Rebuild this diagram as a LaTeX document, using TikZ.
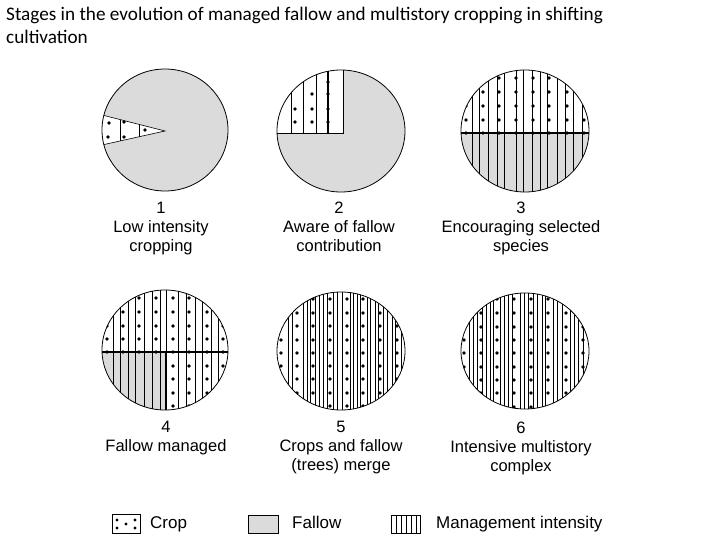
\documentclass[tikz,border=0pt]{standalone}
\usepackage{fontspec}
\setmainfont{Liberation Sans}
\newfontfamily\titlefont{Carlito}
\usetikzlibrary{calc}

\begin{document}
\begin{tikzpicture}[x=1pt,y=-1pt,>=stealth]
 \tikzstyle{outline} = [draw=black,line width=0.8pt]
 \tikzstyle{fallow} = [fill=black!14]
 \tikzstyle{mgmt} = [draw=black,line width=0.6pt]
 \tikzstyle{split} = [draw=black,line width=1.1pt]
 \tikzstyle{stage} = [align=center,anchor=north,inner sep=0pt,font=\fontsize{16.5}{18.8}\selectfont]
 \tikzstyle{legendtext} = [anchor=base west,inner sep=0pt,font=\fontsize{17}{19}\selectfont]

  \useasboundingbox (0,0) rectangle (720,540);

  \coordinate (c1) at (165,130);
  \coordinate (c2) at (341,131);
  \coordinate (c3) at (525,131);
  \coordinate (c4) at (165,350);
  \coordinate (c5) at (341,351);
  \coordinate (c6) at (525,351);

  % Title
  \node[anchor=north west,inner sep=0pt,align=left,font=\titlefont\fontsize{19.2}{22.5}\selectfont]
    (title) at (6,7) {Stages in the evolution of managed fallow and multistory cropping in shifting\\cultivation};

  % Stage 1: small cropped wedge
  \begin{scope}[shift={(c1)}]
    \fill[fallow] (0,0) ellipse [x radius=63, y radius=61];
    \coordinate (w1tip) at (0,1);
    \coordinate (w1up) at (-68,-16.3);
    \coordinate (w1lo) at (-68,16.1);
    \begin{scope}
      \clip (0,0) ellipse [x radius=63, y radius=61];
      \filldraw[fill=white,draw=black,line width=0.6pt] (w1up) -- (w1tip) -- (w1lo) -- cycle;
    \end{scope}
    \draw[mgmt] ($(w1tip)!0.662!(w1up)$) -- ($(w1tip)!0.662!(w1lo)$);
    \draw[mgmt] ($(w1tip)!0.382!(w1up)$) -- ($(w1tip)!0.382!(w1lo)$);
    \foreach \p in {(-56,-7),(-57,7),(-41,-8),(-41,7),(-20,0)}
      \fill \p circle (1.9pt);
    \draw[outline] (0,0) ellipse [x radius=63, y radius=61];
  \end{scope}

  % Stage 2: quarter under crop
  \begin{scope}[shift={(c2)}]
    \fill[fallow] (0,0) ellipse [x radius=64, y radius=61];
    \begin{scope}
      \clip (0,0) ellipse [x radius=64, y radius=61];
      \fill[white] (2,2) rectangle (-70,-70);
      \foreach \dx in {-50,-38,-25}
        \draw[mgmt] (\dx,-70) -- (\dx,2);
      \draw[split] (-13,-70) -- (-13,2);
      \draw[mgmt] (2,-70) -- (2,2) -- (-70,2);
    \end{scope}
    \foreach \p in {(-46,-22),(-46,-9),(-29,-37),(-29,-22),(-29,-9),(-13,-49),(-13,-37),(-13,-22),(-13,-9)}
      \fill \p circle (1.9pt);
    \draw[outline] (0,0) ellipse [x radius=64, y radius=61];
  \end{scope}

  % Stage 3: half managed
  \begin{scope}[shift={(c3)}]
    \begin{scope}
      \clip (0,0) ellipse [x radius=64, y radius=61];
      \fill[fallow] (-70,2) rectangle (70,70);
      \foreach \dx in {-53,-46,-37,-28,-21,-9,-2,7,15,22,32,40,48,57}
        \draw[mgmt] (\dx,-70) -- (\dx,70);
      \draw[split] (-70,2) -- (70,2);
      \foreach \dx in {-59,-42,-26,-9,8,24,42,59}
        \foreach \dy in {-53,-39,-25,-11,2}
          \fill (\dx,\dy) circle (1.9pt);
    \end{scope}
    \draw[outline] (0,0) ellipse [x radius=64, y radius=61];
  \end{scope}

  % Stage 4: fallow managed
  \begin{scope}[shift={(c4)}]
    \begin{scope}
      \clip (0,0) ellipse [x radius=63, y radius=60];
      \fill[fallow] (-70,2) rectangle (1,70);
      \foreach \dx in {-52,-45,-37,-30,-21,-13,-5,13,21,30,37,46,53}
        \draw[mgmt] (\dx,-70) -- (\dx,70);
      \draw[split] (1,2) -- (1,70);
      \draw[mgmt] (1,-70) -- (1,2);
      \draw[split] (-70,2) -- (70,2);
      \foreach \dx in {-58,-42,-26,-9,8,24,42,58}
        \foreach \dy in {-52,-38,-24,-11,2}
          \fill (\dx,\dy) circle (1.9pt);
      \foreach \dx in {8,24,42,58}
        \foreach \dy in {16,29,43,56}
          \fill (\dx,\dy) circle (1.9pt);
    \end{scope}
    \draw[outline] (0,0) ellipse [x radius=63, y radius=60];
  \end{scope}

  % Stage 5: crops and trees merge
  \begin{scope}[shift={(c5)}]
    \begin{scope}
      \clip (0,0) ellipse [x radius=64, y radius=59];
      \foreach \dx in {-53,-49,-38,-34,-31,-26,-22,-18,-14,-8,-4,1,9,12,16,19,26,29,34,37,42,46,51,54,60}
        \draw[mgmt] (\dx,-70) -- (\dx,70);
      \foreach \dx in {-60,-44,-28,-11,6,22,39,56}
        \foreach \dy in {-52,-38,-25,-11,2,15,28,42,55}
          \fill (\dx,\dy) circle (1.9pt);
    \end{scope}
    \draw[outline] (0,0) ellipse [x radius=64, y radius=59];
  \end{scope}

  % Stage 6: intensive multistory
  \begin{scope}[shift={(c6)}]
    \begin{scope}
      \clip (0,0) ellipse [x radius=64, y radius=58];
      \foreach \dx in {-56,-52,-48,-43,-39,-35,-32,-25,-21,-17,-13,-5,-1,3,8,12,17,20,28,32,37,45,49,53,58}
        \draw[mgmt] (\dx,-70) -- (\dx,70);
      \foreach \dx in {-61,-44,-28,-11,6,23,41,58}
        \foreach \dy in {-52,-38,-24,-11,2,16,29,42,56}
          \fill (\dx,\dy) circle (1.9pt);
    \end{scope}
    \draw[outline] (0,0) ellipse [x radius=64, y radius=58];
  \end{scope}

  % Stage labels
  \node[stage] (s1) at (161,202) {1\\Low intensity\\cropping};
  \node[stage] (s2) at (339,202) {2\\Aware of fallow\\contribution};
  \node[stage] (s3) at (521,202) {3\\Encouraging selected\\species};
  \node[stage] (s4) at (166,421) {4\\Fallow managed};
  \node[stage] (s5) at (341,421) {5\\Crops and fallow\\(trees) merge};
  \node[stage] (s6) at (521,422) {6\\Intensive multistory\\complex};

  % Legend
  \draw[mgmt] (112,514) rectangle (140,533);
  \foreach \p in {(117,520),(117,528),(126,524),(135,520),(135,528)}
    \fill \p circle (1.7pt);
  \node[legendtext] (lcrop) at (150,528) {Crop};

  \filldraw[fallow,draw=black,line width=0.6pt] (248,515) rectangle (278,533);
  \node[legendtext] (lfallow) at (292,528) {Fallow};

  \draw[mgmt] (391,515) rectangle (420,533);
  \foreach \dx in {396,401,406,411,416}
    \draw[mgmt] (\dx,515) -- (\dx,533);
  \node[legendtext] (lmgmt) at (436,528) {Management intensity};

\end{tikzpicture}
\end{document}
